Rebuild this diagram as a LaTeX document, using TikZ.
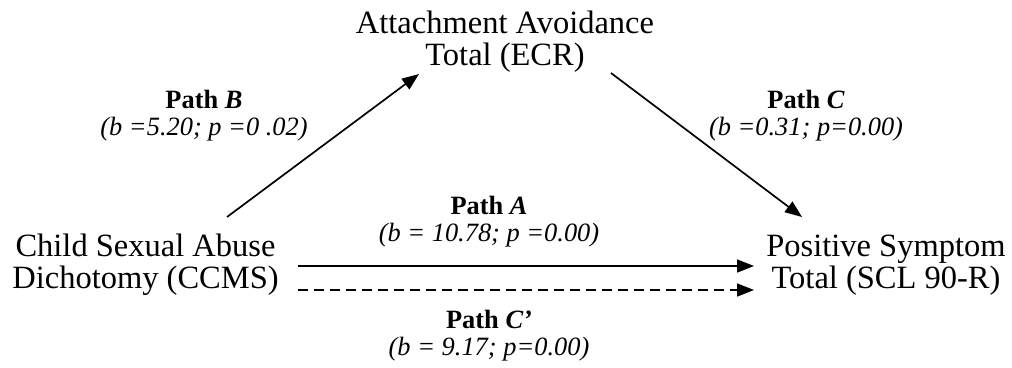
\documentclass[tikz,border=0pt]{standalone}
\usepackage{fontspec}
\setmainfont{Liberation Serif}
\usetikzlibrary{arrows.meta}
\tikzset{
  varbox/.style={inner sep=0pt, anchor=base, font=\fontsize{32.5}{31.5}\selectfont},
  pathlabel/.style={inner sep=0pt, anchor=base, font=\fontsize{26.4}{27.5}\selectfont},
  conn/.style={line width=1.7pt, -{Triangle[length=17pt,width=13pt]}},
  dashconn/.style={conn, dash pattern=on 10pt off 6pt}
}
\newcommand{\twolines}[2]{\begin{tabular}[t]{@{}c@{}}#1\\#2\end{tabular}}
\begin{document}
\begin{tikzpicture}[x=1pt,y=-1pt]
\useasboundingbox (0,0) rectangle (1012,367);
% variables
\node[varbox] (ecr) at (505,33) {\twolines{Attachment Avoidance}{Total (ECR)}};
\node[varbox] (csa) at (145.5,256) {\twolines{Child Sexual Abuse}{Dichotomy (CCMS)}};
\node[varbox] (psy) at (886,256) {\twolines{Positive Symptom}{Total (SCL 90-R)}};
% labels
\node[pathlabel] (lb) at (204,108) {\twolines{\textbf{Path \textit{B}}}{\textit{(b =5.20; p =0 .02)}}};
\node[pathlabel] (lc) at (806,108) {\twolines{\textbf{Path \textit{C}}}{\textit{(b =0.31; p=0.00)}}};
\node[pathlabel] (la) at (489,214) {\twolines{\textbf{Path \textit{A}}}{\textit{(b = 10.78; p =0.00)}}};
\node[pathlabel] (lcp) at (489,328) {\twolines{\textbf{Path \textit{C’}}}{\textit{(b = 9.17; p=0.00)}}};
% connector end points
\coordinate (bS) at (227,217);
\coordinate (bE) at (419,74);
\coordinate (cS) at (611,73);
\coordinate (cE) at (802,217);
\coordinate (aS) at (298,266);
\coordinate (aE) at (754,266);
\coordinate (dS) at (298,290);
\coordinate (dE) at (754,290);
\draw[conn] (bS) -- (bE);
\draw[conn] (cS) -- (cE);
\draw[conn] (aS) -- (aE);
\draw[dashconn] (dS) -- (dE);
\end{tikzpicture}
\end{document}
